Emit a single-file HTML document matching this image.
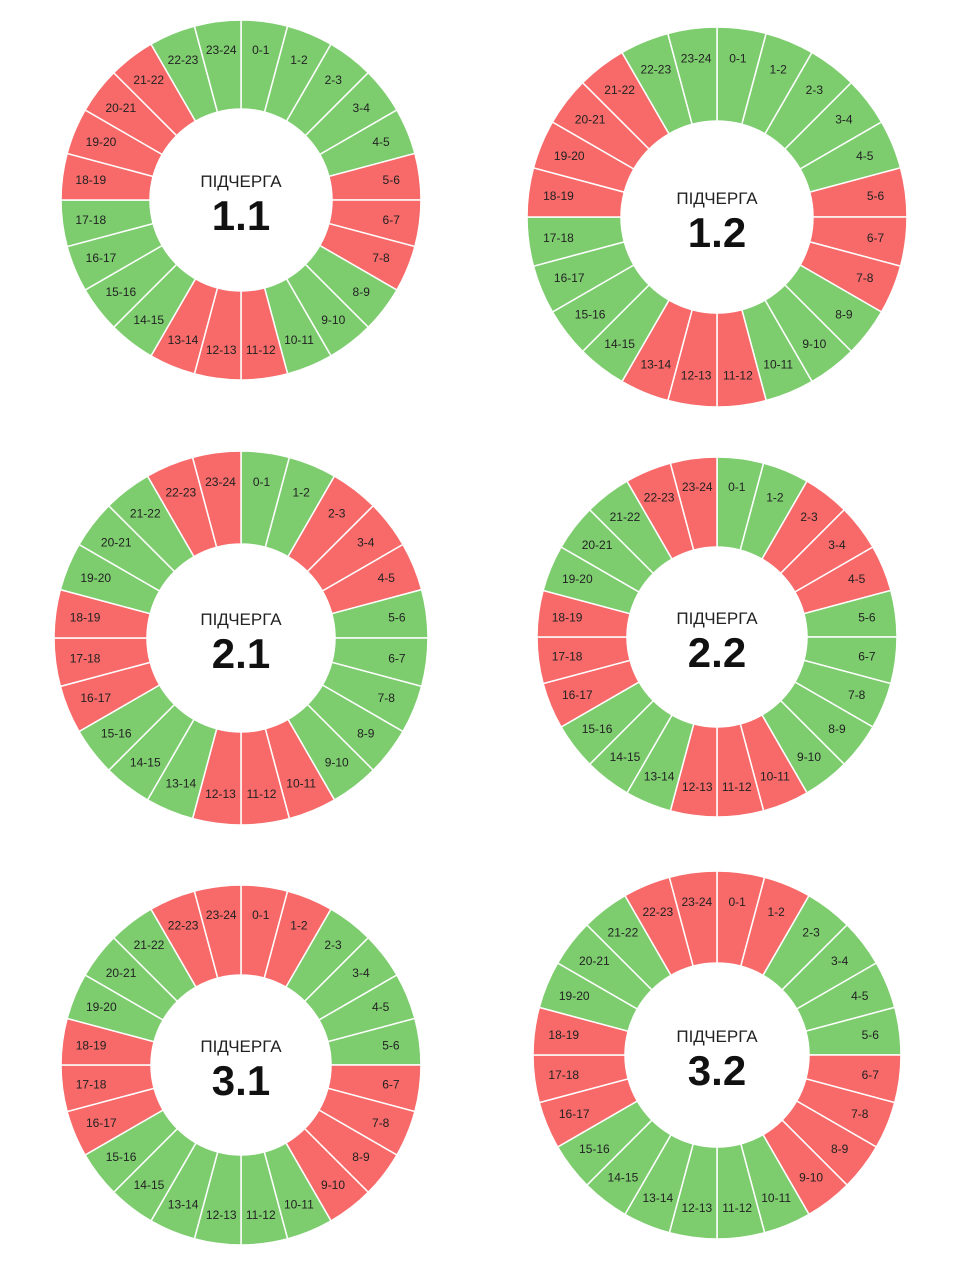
<!DOCTYPE html>
<html><head><meta charset="utf-8">
<style>
html,body{margin:0;padding:0;background:#fff;}
svg{display:block;}
text{font-family:"Liberation Sans","DejaVu Sans",sans-serif;}
</style></head>
<body>
<svg id="s" width="960" height="1280" viewBox="0 0 960 1280" xmlns="http://www.w3.org/2000/svg"></svg>
<script>
const charts=[
 {cx:241,cy:200,R:180,r:91,name:"1.1",red:[5,6,7,11,12,13,18,19,20,21]},
 {cx:717,cy:217,R:190,r:96,name:"1.2",red:[5,6,7,11,12,13,18,19,20,21]},
 {cx:241,cy:638,R:187,r:94,name:"2.1",red:[2,3,4,10,11,12,16,17,18,22,23]},
 {cx:717,cy:637,R:180,r:90,name:"2.2",red:[2,3,4,10,11,12,16,17,18,22,23]},
 {cx:241,cy:1065,R:180,r:90,name:"3.1",red:[0,1,22,23,6,7,8,9,16,17,18]},
 {cx:717,cy:1055,R:184,r:92,name:"3.2",red:[0,1,22,23,6,7,8,9,16,17,18]}
];
const svg=document.getElementById("s");
let h="";
function pt(cx,cy,rad,a){const t=(a-90)*Math.PI/180;return [cx+rad*Math.cos(t),cy+rad*Math.sin(t)];}
for(const c of charts){
 for(let i=0;i<24;i++){
  const a0=i*15,a1=(i+1)*15;
  const p1=pt(c.cx,c.cy,c.R,a0),p2=pt(c.cx,c.cy,c.R,a1),p3=pt(c.cx,c.cy,c.r,a1),p4=pt(c.cx,c.cy,c.r,a0);
  const col=c.red.includes(i)?"#f76a69":"#7dcd6f";
  h+=`<path d="M${p1[0]},${p1[1]} A${c.R},${c.R} 0 0 1 ${p2[0]},${p2[1]} L${p3[0]},${p3[1]} A${c.r},${c.r} 0 0 0 ${p4[0]},${p4[1]}Z" fill="${col}" stroke="#fff" stroke-width="1.5"/>`;
  const lp=pt(c.cx,c.cy,c.r+(c.R-c.r)*0.68,a0+7.5);
  h+=`<text x="${lp[0]}" y="${lp[1]+4}" font-size="12" text-anchor="middle" fill="#222">${i}-${i+1}</text>`;
 }
 h+=`<text x="${c.cx}" y="${c.cy-13}" font-size="17" text-anchor="middle" fill="#222">ПІДЧЕРГА</text>`;
 h+=`<text x="${c.cx}" y="${c.cy+30}" font-size="42" font-weight="bold" text-anchor="middle" fill="#111">${c.name}</text>`;
}
svg.innerHTML=h;
</script>
</body></html>
